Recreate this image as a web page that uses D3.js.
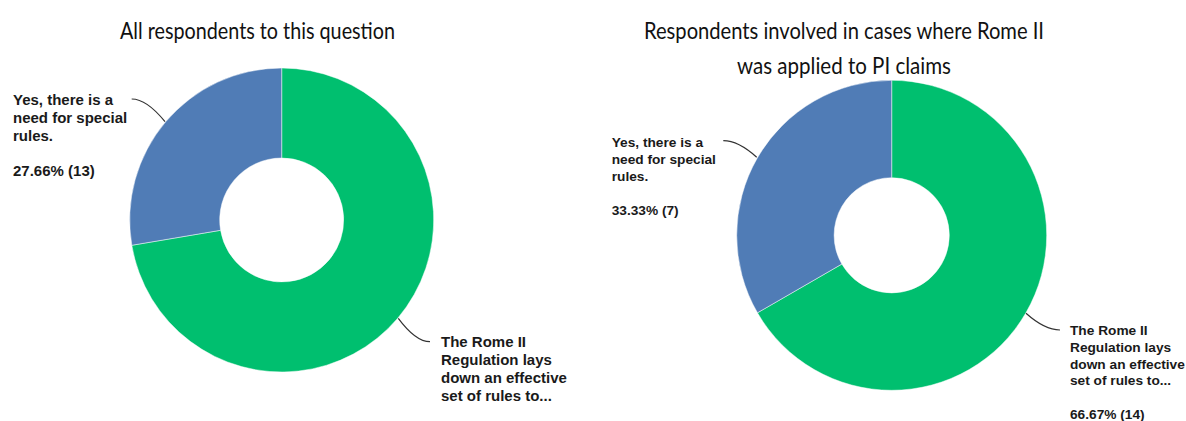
<!DOCTYPE html>
<html><head><meta charset="utf-8">
<script src="https://cdn.jsdelivr.net/npm/d3@7"></script>
<style>
body{margin:0;background:#fff;}
svg{display:block;}
.title{font-family:Lato,"Open Sans",sans-serif;font-weight:400;fill:#111;}
.lbl{font-family:"Liberation Sans",Arial,sans-serif;font-weight:700;fill:#1a1a1a;}
</style></head>
<body>
<svg id="c" width="1186" height="421"></svg>
<script>
// Data
const categories = ["The Rome II Regulation lays down an effective set of rules to...", "Yes, there is a need for special rules."];
const chartTitles = [["All respondents to this question"], ["Respondents involved in cases where Rome II", "was applied to PI claims"]];
const countsAll = [34, 13];
const countsPI = [14, 7];
const pctAll = ["72.34% (34)", "27.66% (13)"];
const pctPI = ["66.67% (14)", "33.33% (7)"];
const colors = ["#00BF6F", "#507CB6"];

const svg = d3.select("#c");
const color = d3.scaleOrdinal().domain(categories).range(colors);
const pie = d3.pie().sort(null).value(d => d.v);

const panels = [
  {counts: countsAll, pcts: pctAll, titles: chartTitles[0], cx: 281.7, cy: 220, r: 152, ri: 62, fs: 15,
   titleX: 257.5, titleY: [39], titleW: [275],
   labels: [
     {lines: ["The Rome II","Regulation lays","down an effective","set of rules to..."], showPct: false, x: 441, y: 347.3, lh: 18,
      p0: [398.3, 318.3], p1: [430, 341.7]},
     {lines: ["Yes, there is a","need for special","rules."], showPct: true, x: 13, y: 105, lh: 17.8,
      p0: [165, 121.7], p1: [131.7, 99]}
   ]},
  {counts: countsPI, pcts: pctPI, titles: chartTitles[1], cx: 891.7, cy: 235.3, r: 155, ri: 57.6, fs: 13.7,
   titleX: 844, titleY: [39, 74], titleW: [400, 214],
   labels: [
     {lines: ["The Rome II","Regulation lays","down an effective","set of rules to..."], showPct: true, x: 1070, y: 335, lh: 16.8,
      p0: [1026, 313.3], p1: [1060, 330]},
     {lines: ["Yes, there is a","need for special","rules."], showPct: true, x: 611.7, y: 147.3, lh: 16.9,
      p0: [756.7, 157.3], p1: [723.3, 140.7]}
   ]}
];

panels.forEach(p => {
  const data = p.counts.map((v, i) => ({k: categories[i], v}));
  const arcs = pie(data);
  const arc = d3.arc().innerRadius(p.ri).outerRadius(p.r);
  const g = svg.append("g").attr("transform", `translate(${p.cx},${p.cy})`);
  g.selectAll("path").data(arcs).join("path")
    .attr("d", arc)
    .attr("fill", d => color(d.data.k))
    .attr("stroke", "rgba(255,255,255,0.6)")
    .attr("stroke-width", 0.8);

  p.titles.forEach((t, i) => {
    svg.append("text").attr("class", "title")
      .attr("x", p.titleX).attr("y", p.titleY[i])
      .attr("text-anchor", "middle")
      .attr("font-size", 24)
      .attr("textLength", p.titleW[i])
      .attr("lengthAdjust", "spacingAndGlyphs")
      .text(t);
  });

  p.labels.forEach((L, i) => {
    const [x0, y0] = L.p0, [x1, y1] = L.p1;
    const cxp = x0 + (x1 - x0) * 0.55, cyp = y1;
    svg.append("path")
      .attr("d", `M${x0},${y0} Q${cxp},${cyp} ${x1},${y1}`)
      .attr("fill", "none").attr("stroke", "#333").attr("stroke-width", 1.2);
    const t = svg.append("text").attr("class", "lbl").attr("font-size", p.fs);
    L.lines.forEach((ln, j) => {
      t.append("tspan").attr("x", L.x).attr("y", L.y + j * L.lh).text(ln);
    });
    if (L.showPct) {
      t.append("tspan").attr("x", L.x).attr("y", L.y + (L.lines.length + 1) * L.lh).text(p.pcts[i]);
    }
  });
});
</script>
</body></html>
